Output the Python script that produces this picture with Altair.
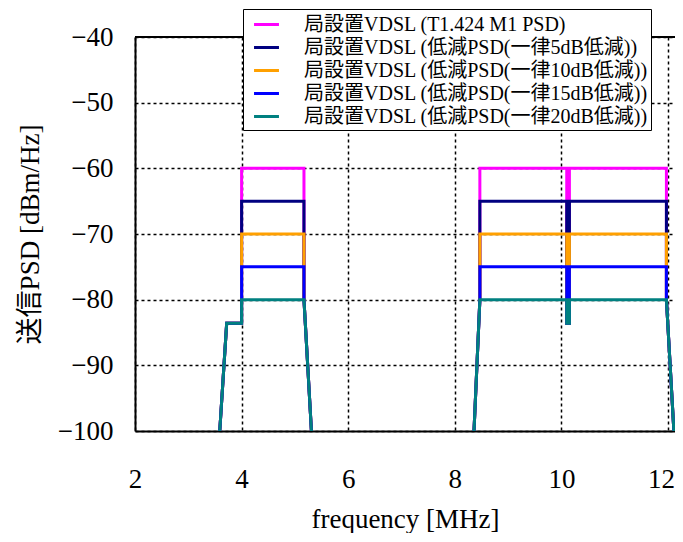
import altair as alt
import pandas as pd

series_names = [
    "局設置VDSL (T1.424 M1 PSD)",
    "局設置VDSL (低減PSD(一律5dB低減))",
    "局設置VDSL (低減PSD(一律10dB低減))",
    "局設置VDSL (低減PSD(一律15dB低減))",
    "局設置VDSL (低減PSD(一律20dB低減))",
]
series_colors = ["#ff00ff", "#000080", "#ffa000", "#0000ff", "#008080"]

# frequency breakpoints [MHz]
freq_band1 = [3.59, 3.72, 4.00, 4.00, 5.17, 5.17, 5.31]
freq_band2 = [8.36, 8.47, 8.47, 10.10, 10.10, 10.15, 10.15, 11.97, 11.97, 12.11]

# PSD values [dBm/Hz] per series
psd_band1 = [
    [-100, -83.6, -83.6, -60, -60, -80, -100],
    [-100, -83.6, -83.6, -65, -65, -80, -100],
    [-100, -83.6, -83.6, -70, -70, -80, -100],
    [-100, -83.6, -83.6, -75, -75, -80, -100],
    [-100, -83.6, -83.6, -80, -80, -80, -100],
]
psd_band2 = [
    [-100, -80, -60, -60, -83.6, -83.6, -60, -60, -80, -100],
    [-100, -80, -65, -65, -83.6, -83.6, -65, -65, -80, -100],
    [-100, -80, -70, -70, -83.6, -83.6, -70, -70, -80, -100],
    [-100, -80, -75, -75, -83.6, -83.6, -75, -75, -80, -100],
    [-100, -80, -80, -80, -83.6, -83.6, -80, -80, -80, -100],
]

x_ticks = [2, 4, 6, 8, 10, 12]
y_ticks = [-100, -90, -80, -70, -60, -50, -40]

rows = []
order = 0
for name, p1, p2 in zip(series_names, psd_band1, psd_band2):
    for seg, (fs, ps) in enumerate([(freq_band1, p1), (freq_band2, p2)]):
        for f, p in zip(fs, ps):
            rows.append({"series": name, "seg": f"{name}-{seg}", "f": f, "psd": p, "o": order})
            order += 1
df = pd.DataFrame(rows)

FONT = "Liberation Serif, Times New Roman, Noto Sans CJK JP"

x_enc = alt.X(
    "f:Q",
    scale=alt.Scale(domain=[2, 12.131], nice=False, zero=False),
    axis=alt.Axis(
        values=x_ticks,
        title="frequency [MHz]",
        format="d",
        titleY=96,
        titleBaseline="alphabetic",
        labelOffset={"condition": {"test": "datum.value == 12", "value": -7}, "value": 0},
    ),
)
y_enc = alt.Y(
    "psd:Q",
    scale=alt.Scale(domain=[-100, -40], nice=False, zero=False),
    axis=alt.Axis(values=y_ticks, title="送信PSD [dBm/Hz]", titleX=-91, titleY=197),
)

lines = alt.Chart(df).mark_line(strokeWidth=3, clip=True).encode(
    x=x_enc,
    y=y_enc,
    color=alt.Color(
        "series:N",
        scale=alt.Scale(domain=series_names, range=series_colors),
        legend=alt.Legend(
            title=None,
            orient="none",
            legendX=108,
            legendY=-28,
            symbolType="M-1.16,0L1.16,0",
            symbolSize=462,
            symbolStrokeWidth=3,
            symbolOffset=8,
            labelFont=FONT,
            labelFontSize=20,
            labelColor="black",
            labelLimit=600,
            labelOffset=25,
            padding=3,
            rowPadding=-3,
            strokeColor="black",
            fillColor="white",
        ),
    ),
    detail="seg:N",
    order="o:Q",
)

top_df = pd.DataFrame({"y": [-40]})
top_rule = alt.Chart(top_df).mark_rule(color="black", strokeWidth=2).encode(y=alt.Y("y:Q"))

chart = (
    alt.layer(top_rule, lines)
    .properties(
        width=540,
        height=394,
        autosize=alt.AutoSizeParams(type="none"),
        padding={"left": 127, "top": 29, "right": 0, "bottom": 102},
    )
    .configure_view(stroke=None)
    .configure_axis(
        labelFont=FONT,
        titleFont=FONT,
        labelFontSize=27,
        titleFontSize=27,
        titleFontWeight="normal",
        labelColor="black",
        titleColor="black",
        ticks=False,
        domainColor="black",
        domainWidth=2,
        grid=True,
        gridColor="black",
        gridDash=[3, 3],
        gridWidth=1.5,
        gridOpacity=1,
        labelFlush=False,
        labelOverlap=False,
    )
    .configure_axisX(labelPadding=35)
    .configure_axisY(labelPadding=22)
)

chart.save("out.html", embed_options={"renderer": "svg", "actions": False})
